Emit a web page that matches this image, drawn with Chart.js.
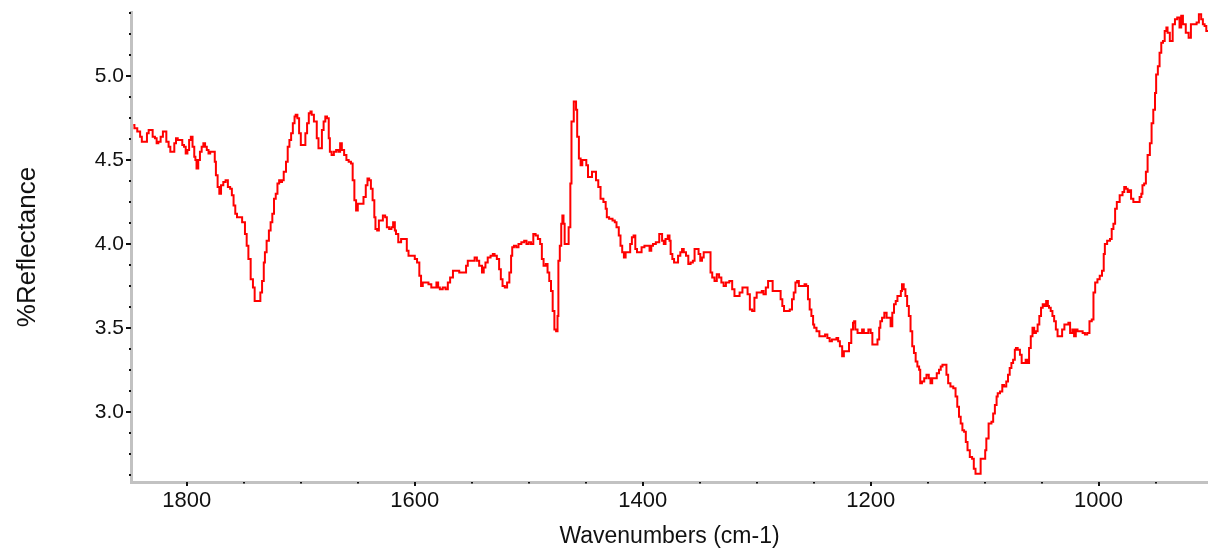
<!DOCTYPE html>
<html>
<head>
<meta charset="utf-8">
<title>%Reflectance spectrum</title>
<script src="https://cdn.jsdelivr.net/npm/chart.js@4.4.1/dist/chart.umd.min.js"></script>
<style>
  html, body { margin: 0; padding: 0; background: #fff; }
  #wrap { width: 1208px; height: 550px; position: relative; }
</style>
</head>
<body>
<div id="wrap"><canvas id="spectrum"></canvas></div>
<script>
// wavenumbers (cm-1), high to low
const wavenumbers = [
  1847, 1845, 1842, 1840, 1839, 1836, 1834, 1833, 1831, 1829, 1827, 1826, 1824, 1822, 1820, 1819,
  1817, 1815, 1814, 1812, 1810, 1809, 1807, 1805, 1803, 1802, 1800, 1799, 1797, 1796, 1794, 1793,
  1792, 1791, 1789, 1788, 1786, 1785, 1783, 1782, 1780, 1779, 1776, 1775, 1774, 1772, 1771, 1769,
  1767, 1765, 1763, 1761, 1760, 1758, 1757, 1755, 1753, 1750, 1748, 1747, 1745, 1743, 1741, 1740,
  1736, 1735, 1733, 1732, 1731, 1729, 1727, 1726, 1724, 1723, 1721, 1720, 1718, 1717, 1716, 1714,
  1712, 1711, 1709, 1708, 1706, 1705, 1704, 1702, 1701, 1699, 1697, 1695, 1694, 1692, 1691, 1690,
  1687, 1685, 1684, 1682, 1681, 1679, 1678, 1676, 1675, 1674, 1672, 1670, 1668, 1666, 1665, 1663,
  1661, 1659, 1657, 1655, 1654, 1652, 1651, 1649, 1646, 1644, 1642, 1641, 1639, 1638, 1636, 1635,
  1634, 1632, 1631, 1629, 1627, 1625, 1624, 1621, 1620, 1618, 1617, 1616, 1613, 1611, 1608, 1606,
  1605, 1601, 1599, 1597, 1595, 1594, 1592, 1589, 1587, 1584, 1582, 1580, 1579, 1577, 1574, 1572,
  1570, 1568, 1565, 1562, 1560, 1558, 1556, 1554, 1553, 1549, 1546, 1545, 1542, 1540, 1539, 1537,
  1535, 1532, 1531, 1529, 1527, 1525, 1524, 1522, 1520, 1518, 1516, 1515, 1514, 1512, 1510, 1508,
  1505, 1503, 1501, 1499, 1497, 1495, 1493, 1491, 1489, 1488, 1486, 1484, 1483, 1481, 1480, 1478,
  1477, 1475, 1474.5, 1473.5, 1472, 1471, 1470, 1469, 1468, 1466, 1464, 1463, 1462, 1461, 1460, 1459,
  1458, 1457, 1455, 1454, 1452, 1450, 1449, 1447, 1445, 1444, 1442, 1440, 1438, 1436, 1433, 1432,
  1431, 1428, 1425, 1424, 1422, 1420, 1419, 1417, 1416, 1414, 1412, 1410, 1409, 1407, 1406, 1404,
  1402, 1400, 1397, 1395, 1393, 1392, 1390, 1387, 1384, 1382, 1381, 1379, 1377, 1376, 1375, 1373,
  1372, 1370, 1368, 1366, 1365, 1363, 1361, 1359, 1357, 1355, 1354, 1352, 1350, 1349, 1347, 1346,
  1343, 1341, 1340, 1338, 1336, 1334, 1332, 1330, 1328, 1326, 1322, 1321, 1318, 1316, 1314, 1311,
  1309, 1307, 1305, 1303, 1301, 1299, 1296, 1295, 1293, 1291, 1289, 1287, 1285, 1282, 1280, 1278,
  1277, 1275, 1272, 1270, 1268, 1267, 1265, 1264, 1262, 1259, 1257, 1256, 1254, 1253, 1251, 1250,
  1249, 1246, 1244, 1241, 1239, 1237, 1235, 1233, 1231, 1229, 1228, 1226, 1224, 1223, 1220, 1218,
  1216, 1215, 1214, 1213, 1210, 1208, 1207, 1205, 1203, 1201, 1199, 1198, 1195, 1193, 1192, 1191,
  1189, 1187, 1185, 1183, 1182, 1180, 1179, 1177, 1176, 1174, 1173, 1172, 1170, 1169, 1167, 1166,
  1164, 1163, 1161, 1160, 1158, 1157, 1156, 1154, 1152, 1150, 1148, 1147, 1145, 1143, 1141, 1139,
  1138, 1136, 1134, 1133, 1131, 1129, 1126, 1125, 1123, 1122, 1120, 1119, 1117, 1116, 1114, 1112,
  1110, 1109, 1107, 1104, 1103, 1100, 1099, 1098, 1095, 1093, 1092, 1090, 1089, 1088, 1085, 1084,
  1082, 1080, 1079, 1077, 1076, 1074, 1073, 1072, 1070, 1068, 1067, 1065, 1063, 1062, 1060, 1059,
  1057, 1056, 1054, 1053, 1051, 1050, 1048, 1047, 1045, 1044, 1043, 1041, 1040, 1038, 1037, 1035,
  1033, 1031, 1029, 1027, 1026, 1024, 1022, 1021, 1019, 1018, 1015, 1013, 1011, 1009, 1007, 1005,
  1004, 1002, 1000, 998, 996, 995, 994, 991, 989, 988, 986, 985, 983, 980, 978, 977,
  975, 974, 972, 971, 968, 965, 963, 962, 961, 959, 958, 956, 954, 953, 951, 950,
  949, 947, 946, 944, 943, 941, 940, 939, 936, 934, 932, 930, 928, 927, 925, 922,
  920, 918, 915, 913, 911, 909, 908, 906, 905, 904
];

// %Reflectance at each wavenumber
const reflectance = [
  4.71, 4.69, 4.67, 4.64, 4.61, 4.61, 4.66, 4.68, 4.68, 4.64, 4.63, 4.60, 4.61, 4.64, 4.67, 4.67,
  4.61, 4.58, 4.55, 4.55, 4.60, 4.63, 4.62, 4.62, 4.59, 4.58, 4.54, 4.56, 4.62, 4.64, 4.58, 4.52,
  4.50, 4.45, 4.50, 4.55, 4.58, 4.60, 4.58, 4.56, 4.54, 4.55, 4.55, 4.49, 4.41, 4.34, 4.30, 4.35,
  4.37, 4.38, 4.34, 4.33, 4.29, 4.23, 4.18, 4.16, 4.16, 4.13, 4.06, 3.99, 3.91, 3.79, 3.74, 3.66,
  3.66, 3.71, 3.78, 3.89, 3.95, 4.02, 4.08, 4.13, 4.18, 4.27, 4.30, 4.36, 4.38, 4.37, 4.38, 4.43,
  4.49, 4.58, 4.62, 4.66, 4.72, 4.76, 4.77, 4.75, 4.66, 4.59, 4.59, 4.66, 4.72, 4.78, 4.79, 4.77,
  4.73, 4.63, 4.57, 4.57, 4.68, 4.73, 4.76, 4.75, 4.63, 4.55, 4.53, 4.55, 4.56, 4.55, 4.60, 4.56,
  4.53, 4.50, 4.49, 4.48, 4.38, 4.26, 4.20, 4.24, 4.24, 4.28, 4.35, 4.39, 4.38, 4.33, 4.26, 4.16,
  4.09, 4.08, 4.14, 4.14, 4.17, 4.16, 4.10, 4.09, 4.10, 4.13, 4.08, 4.06, 4.01, 4.03, 4.03, 3.96,
  3.93, 3.93, 3.91, 3.89, 3.81, 3.75, 3.77, 3.77, 3.76, 3.74, 3.74, 3.77, 3.74, 3.73, 3.74, 3.73,
  3.77, 3.80, 3.84, 3.84, 3.83, 3.83, 3.83, 3.87, 3.90, 3.90, 3.92, 3.90, 3.87, 3.83, 3.86, 3.89,
  3.92, 3.93, 3.94, 3.93, 3.91, 3.85, 3.79, 3.75, 3.74, 3.77, 3.83, 3.93, 3.98, 3.99, 3.98, 4.00,
  4.01, 4.02, 4.00, 4.01, 4.00, 4.06, 4.05, 4.03, 4.00, 3.91, 3.87, 3.88, 3.83, 3.78, 3.72, 3.60,
  3.49, 3.48, 3.57, 3.90, 3.99, 4.12, 4.17, 4.12, 4.00, 4.00, 4.10, 4.36, 4.73, 4.73, 4.85, 4.85,
  4.80, 4.64, 4.51, 4.47, 4.50, 4.50, 4.47, 4.40, 4.40, 4.43, 4.43, 4.38, 4.34, 4.27, 4.25, 4.21,
  4.16, 4.15, 4.14, 4.13, 4.10, 4.05, 3.99, 3.95, 3.92, 3.95, 3.95, 4.00, 4.04, 4.05, 3.97, 3.95,
  3.95, 3.98, 3.99, 3.99, 3.96, 3.99, 4.00, 4.01, 4.06, 4.02, 4.00, 4.03, 4.05, 4.02, 3.94, 3.91,
  3.89, 3.89, 3.93, 3.95, 3.97, 3.95, 3.93, 3.88, 3.89, 3.90, 3.97, 3.97, 3.94, 3.90, 3.92, 3.95,
  3.95, 3.95, 3.83, 3.80, 3.78, 3.82, 3.80, 3.77, 3.75, 3.77, 3.78, 3.73, 3.69, 3.69, 3.71, 3.74,
  3.74, 3.70, 3.61, 3.60, 3.68, 3.71, 3.71, 3.72, 3.70, 3.74, 3.78, 3.78, 3.72, 3.72, 3.72, 3.67,
  3.63, 3.60, 3.60, 3.61, 3.67, 3.71, 3.77, 3.78, 3.75, 3.75, 3.76, 3.75, 3.67, 3.61, 3.57, 3.52,
  3.50, 3.48, 3.45, 3.45, 3.46, 3.44, 3.42, 3.43, 3.43, 3.44, 3.42, 3.39, 3.33, 3.36, 3.36, 3.41,
  3.49, 3.53, 3.54, 3.49, 3.47, 3.47, 3.49, 3.47, 3.47, 3.49, 3.47, 3.40, 3.40, 3.43, 3.50, 3.54,
  3.56, 3.59, 3.56, 3.56, 3.51, 3.59, 3.64, 3.66, 3.69, 3.69, 3.72, 3.76, 3.73, 3.69, 3.63, 3.57,
  3.48, 3.39, 3.35, 3.30, 3.27, 3.25, 3.17, 3.18, 3.20, 3.22, 3.20, 3.17, 3.20, 3.20, 3.23, 3.25,
  3.27, 3.28, 3.28, 3.22, 3.17, 3.15, 3.14, 3.09, 3.03, 2.97, 2.93, 2.89, 2.88, 2.82, 2.77, 2.73,
  2.72, 2.66, 2.63, 2.63, 2.72, 2.72, 2.77, 2.84, 2.93, 2.94, 2.99, 3.04, 3.09, 3.11, 3.12, 3.16,
  3.15, 3.18, 3.22, 3.26, 3.29, 3.31, 3.37, 3.38, 3.37, 3.34, 3.29, 3.29, 3.31, 3.29, 3.38, 3.45,
  3.50, 3.47, 3.48, 3.52, 3.57, 3.62, 3.64, 3.63, 3.66, 3.63, 3.62, 3.60, 3.57, 3.54, 3.49, 3.45,
  3.45, 3.49, 3.52, 3.52, 3.53, 3.47, 3.49, 3.45, 3.49, 3.48, 3.48, 3.47, 3.46, 3.47, 3.54, 3.55,
  3.71, 3.77, 3.79, 3.81, 3.84, 3.94, 4.00, 4.02, 4.03, 4.09, 4.12, 4.21, 4.25, 4.29, 4.31, 4.34,
  4.33, 4.31, 4.32, 4.27, 4.25, 4.25, 4.28, 4.30, 4.35, 4.36, 4.43, 4.53, 4.60, 4.72, 4.80, 4.90,
  5.01, 5.06, 5.14, 5.20, 5.21, 5.27, 5.29, 5.26, 5.21, 5.31, 5.34, 5.35, 5.29, 5.36, 5.31, 5.26,
  5.23, 5.31, 5.31, 5.32, 5.37, 5.34, 5.31, 5.30, 5.27, 5.27
];

// labelled ticks
const xTickLabels = [1800, 1600, 1400, 1200, 1000];
const yTickLabels = [3.0, 3.5, 4.0, 4.5, 5.0];

const FONT = "'Liberation Sans', Arial, sans-serif";
const TEXT = '#111';
const AXIS_GRAY = '#c2c2c2';

Chart.defaults.font.family = FONT;
Chart.defaults.color = TEXT;

// short marks on the outer side of the grey axis lines
const tickMarks = {
  id: 'tickMarks',
  afterDraw(chart) {
    const ctx = chart.ctx;
    const area = chart.chartArea;
    const xs = chart.scales.x;
    const ys = chart.scales.y;
    ctx.save();
    ctx.strokeStyle = '#111';
    ctx.lineWidth = 2;
    ys.ticks.forEach(t => {
      const py = Math.round(ys.getPixelForValue(t.value));
      const big = yTickLabels.includes(t.value);
      ctx.beginPath();
      ctx.moveTo(area.left - (big ? 5 : 2), py);
      ctx.lineTo(area.left, py);
      ctx.stroke();
    });
    xs.ticks.forEach(t => {
      const px = Math.round(xs.getPixelForValue(t.value));
      const big = xTickLabels.includes(t.value);
      ctx.beginPath();
      ctx.moveTo(px, area.bottom);
      ctx.lineTo(px, area.bottom + (big ? 4 : 1.5));
      ctx.stroke();
    });
    ctx.restore();
  }
};

const points = wavenumbers.map((w, i) => ({ x: w, y: reflectance[i] }));

new Chart(document.getElementById('spectrum'), {
  type: 'line',
  data: {
    datasets: [{
      data: points,
      borderColor: '#ff0000',
      borderWidth: 2,
      pointRadius: 0,
      stepped: 'middle',
      fill: false
    }]
  },
  options: {
    responsive: true,
    maintainAspectRatio: false,
    animation: false,
    events: [],
    layout: { padding: { top: 12, right: 0, left: 0, bottom: 0 } },
    plugins: {
      legend: { display: false },
      tooltip: { enabled: false }
    },
    scales: {
      x: {
        type: 'linear',
        reverse: true,
        min: 904,
        max: 1849,
        grid: { display: false, drawTicks: false },
        border: { display: true, color: AXIS_GRAY, width: 3 },
        ticks: {
          stepSize: 50,
          includeBounds: false,
          autoSkip: false,
          maxRotation: 0,
          padding: 6,
          color: TEXT,
          font: { size: 22 },
          callback: v => xTickLabels.includes(v) ? String(v) : ''
        },
        title: {
          display: true,
          text: 'Wavenumbers (cm-1)',
          color: TEXT,
          font: { size: 23 },
          padding: { top: 0, bottom: 0 }
        },
        afterFit: s => { s.height = 68; s.paddingLeft = 0; s.paddingRight = 0; }
      },
      y: {
        type: 'linear',
        min: 2.581,
        max: 5.383,
        grid: { display: false, drawTicks: false },
        border: { display: true, color: AXIS_GRAY, width: 3 },
        ticks: {
          stepSize: 0.125,
          includeBounds: false,
          autoSkip: false,
          padding: 7,
          color: TEXT,
          font: { size: 21 },
          callback: v => yTickLabels.includes(v) ? v.toFixed(1) : ''
        },
        title: {
          display: true,
          text: '%Reflectance',
          color: TEXT,
          font: { size: 26 },
          padding: { top: 12, bottom: 0 }
        },
        afterFit: s => { s.width = 131; s.paddingTop = 0; s.paddingBottom = 0; }
      }
    }
  },
  plugins: [tickMarks]
});
</script>
</body>
</html>
